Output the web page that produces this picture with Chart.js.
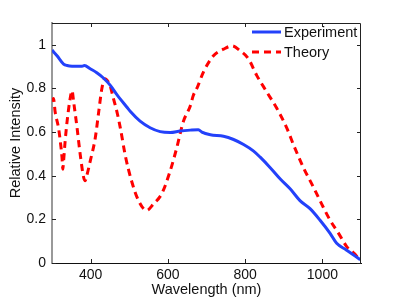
<!DOCTYPE html>
<html>
<head>
<meta charset="utf-8">
<script src="https://cdn.jsdelivr.net/npm/chart.js@4.4.1/dist/chart.umd.min.js"></script>
<style>
  html, body { margin: 0; padding: 0; background: #fff; }
  #wrap { width: 399px; height: 300px; }
</style>
</head>
<body>
<div id="wrap"><canvas id="spectrum" width="399" height="300"></canvas></div>
<script>
// measured spectrum (blue)
let expWavelength = [300, 313, 330, 339, 352, 378, 384, 399, 416, 433, 451, 468, 494, 503, 528, 554, 580, 606, 632, 658, 679, 688, 710, 744, 770, 796, 822, 839, 865, 891, 917, 942, 968, 994, 1020, 1037, 1062, 1080, 1098];
let expIntensity = [0.976, 0.95, 0.912, 0.905, 0.902, 0.902, 0.905, 0.89, 0.872, 0.848, 0.814, 0.772, 0.714, 0.694, 0.65, 0.62, 0.602, 0.598, 0.605, 0.609, 0.611, 0.600, 0.588, 0.581, 0.566, 0.543, 0.513, 0.485, 0.437, 0.385, 0.339, 0.286, 0.249, 0.196, 0.136, 0.09, 0.06, 0.038, 0.015];

// calculated spectrum (red dashed)
let theoryWavelength = [300, 304, 308, 317, 322, 326, 328, 330, 334, 339, 347, 352, 356, 365, 373, 382, 386, 390, 399, 412, 421, 429, 437, 446, 451, 459, 468, 477, 490, 507, 524, 545, 563, 584, 606, 623, 640, 658, 666, 675, 692, 718, 744, 766, 787, 809, 830, 856, 882, 908, 925, 951, 977, 998, 1020, 1042, 1063, 1089, 1095];
let theoryIntensity = [0.74, 0.754, 0.694, 0.618, 0.55, 0.482, 0.43, 0.467, 0.558, 0.648, 0.754, 0.79, 0.739, 0.618, 0.498, 0.392, 0.377, 0.40, 0.467, 0.573, 0.694, 0.799, 0.845, 0.829, 0.81, 0.754, 0.694, 0.618, 0.49, 0.37, 0.286, 0.241, 0.271, 0.317, 0.422, 0.528, 0.648, 0.72, 0.769, 0.80, 0.875, 0.950, 0.98, 0.995, 0.973, 0.935, 0.86, 0.784, 0.709, 0.618, 0.543, 0.437, 0.347, 0.271, 0.196, 0.136, 0.075, 0.03, 0.01];

let xTickValues = [400, 600, 800, 1000];
let yTickValues = [0, 0.2, 0.4, 0.6, 0.8, 1];
let seriesNames = ['Experiment', 'Theory'];

let blue = 'rgb(35, 65, 250)';
let red = 'rgb(255, 0, 0)';
let fontFamily = '"Liberation Sans", Arial, Helvetica, sans-serif';

const toPoints = (xs, ys) => xs.map((x, i) => ({ x: x, y: ys[i] }));

// matlab style box: inward ticks on all four sides + legend in the corner
const matlabBox = {
  id: 'matlabBox',
  afterDraw(chart) {
    let ctx = chart.ctx;
    let area = chart.chartArea;
    let xs = chart.scales.x;
    let ys = chart.scales.y;
    let tl = 4;
    ctx.save();
    ctx.lineWidth = 1;
    ctx.strokeStyle = '#222';
    ctx.beginPath();
    ctx.moveTo(area.left, area.top + 0.5);
    ctx.lineTo(area.right - 0.5, area.top + 0.5);
    ctx.lineTo(area.right - 0.5, area.bottom);
    ctx.stroke();
    ctx.beginPath();
    xTickValues.forEach((v) => {
      let px = Math.round(xs.getPixelForValue(v)) + 0.5;
      ctx.moveTo(px, area.bottom);
      ctx.lineTo(px, area.bottom - tl);
      ctx.moveTo(px, area.top);
      ctx.lineTo(px, area.top + tl);
    });
    yTickValues.forEach((v) => {
      let py = Math.round(ys.getPixelForValue(v)) + 0.5;
      ctx.moveTo(area.left, py);
      ctx.lineTo(area.left + tl, py);
      ctx.moveTo(area.right, py);
      ctx.lineTo(area.right - tl, py);
    });
    ctx.stroke();

    // legend
    let lx0 = 252, lx1 = 281, rowY = [32, 52];
    ctx.font = '14.5px ' + fontFamily;
    ctx.textBaseline = 'middle';
    ctx.fillStyle = '#111';
    chart.data.datasets.forEach((ds, i) => {
      ctx.beginPath();
      ctx.lineWidth = 3;
      ctx.strokeStyle = ds.borderColor;
      ctx.setLineDash(ds.borderDash || []);
      ctx.moveTo(lx0, rowY[i]);
      ctx.lineTo(lx1, rowY[i]);
      ctx.stroke();
      ctx.setLineDash([]);
      ctx.fillText(ds.label, 284, rowY[i] + 1);
    });
    ctx.restore();
  }
};

let renderChart = () => {
  let canvas = document.getElementById('spectrum');
  new Chart(canvas, {
    type: 'line',
    data: {
      datasets: [
        {
          label: seriesNames[0],
          data: toPoints(expWavelength, expIntensity),
          borderColor: blue,
          borderWidth: 3,
          pointRadius: 0,
          cubicInterpolationMode: 'monotone',
        },
        {
          label: seriesNames[1],
          data: toPoints(theoryWavelength, theoryIntensity),
          borderColor: red,
          borderWidth: 3,
          borderDash: [7, 5],
          pointRadius: 0,
          cubicInterpolationMode: 'monotone',
        },
      ],
    },
    options: {
      responsive: false,
      animation: false,
      events: [],
      layout: { padding: { top: 23, right: 38, left: 0, bottom: 0 } },
      plugins: { legend: { display: false }, tooltip: { enabled: false } },
      scales: {
        x: {
          type: 'linear',
          min: 300,
          max: 1100,
          afterBuildTicks: (s) => { s.ticks = xTickValues.map((v) => ({ value: v })); },
          afterFit: (s) => { s.height = 37; },
          grid: { display: false, drawTicks: false },
          border: { display: true, color: '#111', width: 1 },
          ticks: {
            color: '#111',
            padding: 4,
            font: { family: fontFamily, size: 14 },
            callback: (v) => String(v),
          },
          title: {
            display: true,
            text: 'Wavelength (nm)',
            color: '#111',
            padding: { top: 0, bottom: 1 },
            font: { family: fontFamily, size: 14.5, lineHeight: 1.2 },
          },
        },
        y: {
          min: 0,
          max: 1.1,
          afterBuildTicks: (s) => { s.ticks = yTickValues.map((v) => ({ value: v })); },
          afterFit: (s) => { s.width = 52; },
          grid: { display: false, drawTicks: false },
          border: { display: true, color: '#999', width: 2 },
          ticks: {
            color: '#111',
            padding: 6,
            font: { family: fontFamily, size: 14 },
            callback: (v) => String(Math.round(v * 10) / 10),
          },
          title: {
            display: true,
            text: 'Relative Intensity',
            color: '#111',
            padding: { top: 7, bottom: 0 },
            font: { family: fontFamily, size: 14.5, lineHeight: 1.2 },
          },
        },
      },
    },
    plugins: [matlabBox],
  });
};

renderChart();
</script>
</body>
</html>
